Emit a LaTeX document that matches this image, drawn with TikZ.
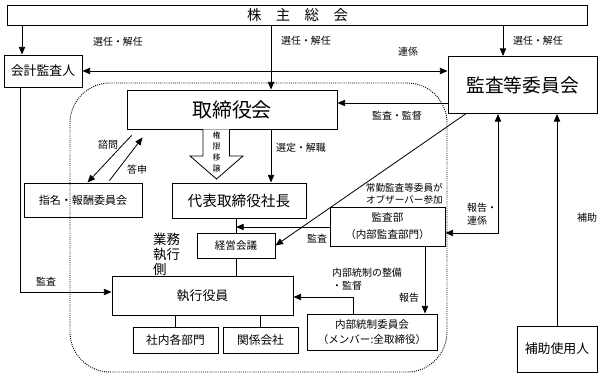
\documentclass[tikz,border=0pt]{standalone}
\usepackage{fontspec}
\setmainfont{Noto Sans CJK JP}
\usetikzlibrary{arrows.meta}

\begin{document}
\begin{tikzpicture}[
  x=0.03cm, y=-0.03cm,
  box/.style={draw, line width=0.8pt, align=center, inner sep=1pt},
  lbl/.style={font=\fontsize{8.5}{10}\selectfont, inner sep=0pt},
  arr/.style={-{Triangle[length=2.3mm,width=1.9mm]}, line width=0.7pt},
  darr/.style={{Triangle[length=2.3mm,width=1.9mm]}-{Triangle[length=2.3mm,width=1.9mm]}, line width=0.7pt}
]
\useasboundingbox (0,0) rectangle (600,377);

\draw[densely dotted, line width=0.8pt, rounded corners=1.2cm] (70,83) rectangle (447,372);

\node[box, minimum width=17.4cm, minimum height=0.6cm, font=\fontsize{12.3}{14}\selectfont] (gm) at (297.5,15) {株　主　総　会};
\node[box, minimum width=2.34cm, minimum height=0.96cm, font=\fontsize{11}{13}\selectfont] (auditor) at (43,71) {会計監査人};
\node[box, minimum width=4.47cm, minimum height=1.71cm, font=\fontsize{16}{18}\selectfont] (acb) at (522.5,85) {監査等委員会};
\node[box, minimum width=6.3cm, minimum height=1.17cm, font=\fontsize{17}{19}\selectfont] (board) at (232,109.5) {取締役会};
\node[box, minimum width=4.02cm, minimum height=1.05cm, font=\fontsize{12.5}{14}\selectfont] (ceo) at (239,200.5) {代表取締役社長};
\node[box, minimum width=3.54cm, minimum height=1.02cm, font=\fontsize{9.4}{11}\selectfont] (nomcom) at (83,200) {指名・報酬委員会};
\node[box, minimum width=2.34cm, minimum height=0.75cm, font=\fontsize{9}{11}\selectfont] (mgmt) at (236,245.5) {経営会議};
\node[box, minimum width=5.43cm, minimum height=1.17cm, font=\fontsize{11}{13}\selectfont] (exec) at (202.5,295.5) {執行役員};
\node[box, minimum width=2.55cm, minimum height=0.78cm, font=\fontsize{10}{12}\selectfont] (dept) at (175.5,340) {社内各部門};
\node[box, minimum width=2.25cm, minimum height=0.78cm, font=\fontsize{10}{12}\selectfont] (affil) at (260.5,340) {関係会社};
\node[box, minimum width=3.45cm, minimum height=1.17cm, font=\fontsize{9}{14.5}\selectfont] (iad) at (387.5,226.5) {監査部\\（内部監査部門）};
\node[box, minimum width=3.9cm, minimum height=1.08cm, font=\fontsize{9}{12.8}\selectfont] (icc) at (372,332) {内部統制委員会\\（メンバー:全取締役）};
\node[box, minimum width=2.4cm, minimum height=1.38cm, font=\fontsize{11}{13}\selectfont] (staff) at (557,349) {補助使用人};

\coordinate (xa) at (22,0);
\coordinate (xb) at (271,0);
\coordinate (xc) at (503,0);
\coordinate (sv) at (448,103);
\coordinate (mc) at (236,227);
\coordinate (rep) at (498,233);
\coordinate (ia) at (20,292);
\coordinate (ic) at (353,297);
\coordinate (ir) at (425,0);

\draw[arr] (gm.south -| xa) -- (auditor.north -| xa);
\draw[arr] (gm.south -| xb) -- (board.north -| xb);
\draw[arr] (gm.south -| xc) -- (acb.north -| xc);
\draw[darr] (auditor) -- (auditor -| acb.west);
\draw[arr] (sv) -- (sv -| board.east);
\draw[arr] (board.south -| xb) -- (ceo.north -| xb);
\draw[arr] ([shift={(5,6)}]board.south west) -- ([shift={(64,0)}]nomcom.north west);
\draw[arr] ([shift={(86,-2)}]nomcom.north west) -- ([shift={(16,8)}]board.south west);

\draw[line width=0.7pt, fill=white] (203,129.5) -- (203,156) -- (190,156) -- (216.5,179)
  -- (243,156) -- (229.5,156) -- (229.5,129.5);
\node[font=\fontsize{6.8}{9.6}\selectfont, align=center, inner sep=0pt] (deleg) at (216.5,152) {権\\限\\移\\譲};

\draw[line width=0.7pt] (ceo.south -| mgmt.north) -- (mgmt.north);
\draw[line width=0.7pt] (mgmt.south) -- (exec.north -| mgmt.south);
\draw[line width=0.7pt] (exec.south -| dept.north) -- (dept.north);
\draw[line width=0.7pt] (exec.south -| affil.north) -- (affil.north);
\draw[arr] (iad.west |- mc) -- (mc);
\draw[arr] ([xshift=0.54cm]acb.south west) -- (mgmt.east);
\draw[darr] (iad.east |- rep) -- (rep) -- (rep |- acb.south);
\draw[arr] (staff.north) -- (staff.north |- acb.south);
\draw[arr] (iad.south -| ir) -- (icc.north -| ir);
\draw[arr] (icc.north -| ic) |- (exec.east |- ic);
\draw[arr] (auditor.south -| ia) |- (exec.west |- ia);

\node[lbl] (l1) at (118,42) {選任・解任};
\node[lbl] (l2) at (306,41) {選任・解任};
\node[lbl] (l3) at (538,41) {選任・解任};
\node[lbl] (l4) at (408,52) {連係};
\node[lbl] (l5) at (397,116) {監査・監督};
\node[lbl] (l6) at (301,148) {選定・解職};
\node[lbl] (l7) at (108,145) {諮問};
\node[lbl] (l8) at (137,170) {答申};
\node[lbl] (l9) at (46,282) {監査};
\node[lbl] (l10) at (317,239) {監査};
\node[lbl, font=\fontsize{8.2}{10.2}\selectfont, align=right, anchor=east] (l11) at (443,194) {常勤監査等委員が\\オブザーバー参加};
\node[lbl, font=\fontsize{8.5}{11}\selectfont, align=left, anchor=west] (l12) at (467,214.5) {報告・\\連係};
\node[lbl] (l13) at (587,218) {補助};
\node[lbl] (l14) at (409,298) {報告};
\node[lbl, font=\fontsize{8.5}{11}\selectfont, align=left, anchor=west] (l15) at (332,279.5) {内部統制の整備\\・監督};
\node[font=\fontsize{11.5}{12.8}\selectfont, align=left, anchor=west, inner sep=0pt] (side) at (153,254) {業務\\執行\\側};
\end{tikzpicture}
\end{document}
